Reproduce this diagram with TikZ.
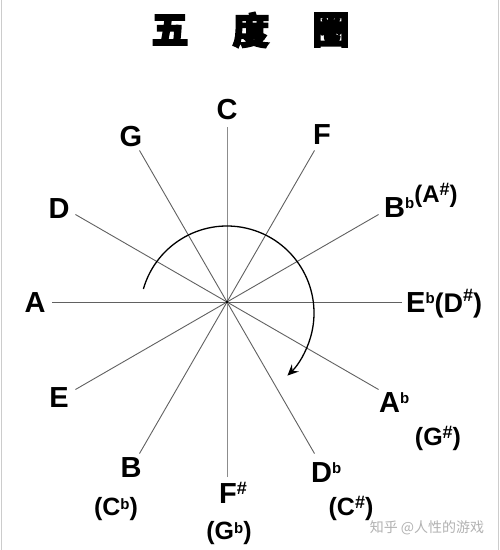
\documentclass[tikz,border=0pt]{standalone}
\usepackage{fontspec}
\setmainfont{Liberation Sans}
\newfontfamily\cjk{Noto Sans CJK SC}[BoldFeatures={FakeBold=4}]
\usetikzlibrary{arrows.meta}
\newcommand\supx[2][9pt]{\raisebox{#1}{\fontsize{15}{15}\selectfont #2}}
\newcommand\supy[2][6pt]{\raisebox{#1}{\fontsize{15}{15}\selectfont #2}}
\newcommand\shp[1][10pt]{\raisebox{#1}{\fontsize{18}{18}\selectfont\#}}
\tikzset{
  lab/.style={inner sep=0pt, font=\fontsize{29}{29}\selectfont\bfseries},
  lab2/.style={inner sep=0pt, font=\fontsize{25}{25}\selectfont\bfseries},
  spoke/.style={draw=black!62, line width=0.9pt},
  spokev/.style={draw=black!45, line width=0.9pt},
  title/.style={inner sep=0pt, font=\cjk\bfseries\fontsize{37}{37}\selectfont},
}
\begin{document}
\begin{tikzpicture}[x=1pt,y=-1pt]
\useasboundingbox (0,0) rectangle (500,550);
\fill[white] (0,0) rectangle (500,550);
\draw[black!20, line width=1.5pt] (1.5,0) -- (1.5,550);
\draw[black!20, line width=1.5pt] (498.5,0) -- (498.5,550);
% title
\node[title] (t1) at (170,30) {五};
\node[title] (t2) at (251,30) {度};
\node[title] (t3) at (331,30) {圈};
% spokes
\coordinate (O) at (227,302);
\foreach \a in {0,30,...,330} \coordinate (s\a) at ([shift={(\a:175)}]O);
\draw[spoke] (s0) -- (s180);
\draw[spoke] (s30) -- (s210);
\draw[spoke] (s60) -- (s240);
\draw[spokev] (s90) -- (s270);
\draw[spoke] (s120) -- (s300);
\draw[spoke] (s150) -- (s330);
\fill[black] (O) circle (1.4);
% arc arrow
\coordinate (ac) at (227,313);
\draw[black, line width=1.3pt, -{Stealth[length=11pt,width=10pt,inset=4pt]}]
  ([shift={(196:87)}]ac) arc[start angle=196, end angle=406, radius=87];
% labels
\node[lab, anchor=base] (C) at (227,119) {C};
\node[lab, anchor=base] (F) at (322,144) {F};
\node[lab, anchor=base] (G) at (131,146) {G};
\node[lab, anchor=base] (D) at (59,218) {D};
\node[lab, anchor=base] (A) at (35,312) {A};
\node[lab, anchor=base] (E) at (59,407) {E};
\node[lab, anchor=base] (B) at (131,477) {B};
\node[lab, anchor=base west] (Bb) at (384,217) {B\supx{b}\raisebox{15pt}{\fontsize{24}{24}\selectfont(A\shp[7pt])}};
\node[lab, anchor=base west] (Eb) at (406,312) {E\supx{b}{\fontsize{27}{27}\selectfont(D\shp[11pt])}};
\node[lab, anchor=base west] (Ab) at (379,412) {A\supx{b}};
\node[lab2, anchor=base] (Gs) at (438,445) {(G\shp[7pt])};
\node[lab, anchor=base west] (Db) at (311,482) {D\supx{b}};
\node[lab2, anchor=base] (Cs) at (351,515) {(C\shp[7pt])};
\node[lab2, anchor=base] (Cb) at (116,515) {(C\supy{b})};
\node[lab, anchor=base west] (Fs) at (219,503) {F\shp[9pt]};
\node[lab2, anchor=base] (Gb) at (229,539) {(G\supy{b})};
% watermark
\node[inner sep=0pt, text=black!30, font=\cjk\fontsize{14}{14}\selectfont] (wm) at (427,528) {知乎 @人性的游戏};
\end{tikzpicture}
\end{document}
